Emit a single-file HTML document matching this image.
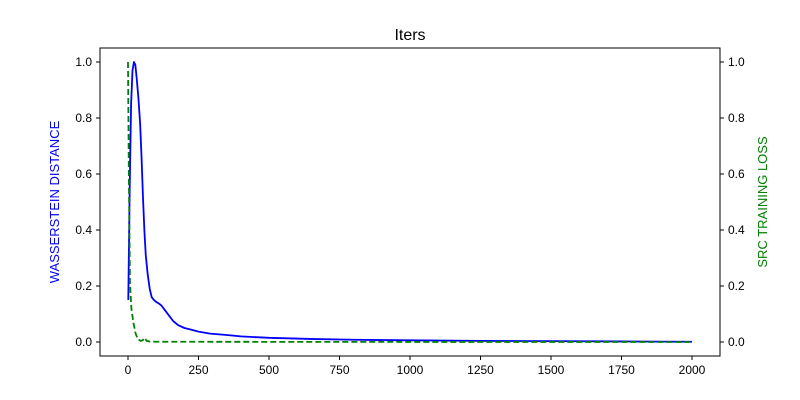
<!DOCTYPE html>
<html><head><meta charset="utf-8"><style>
html,body{margin:0;padding:0;background:#fff;}
svg{display:block;font-family:"Liberation Sans","DejaVu Sans",sans-serif;}
</style></head><body>
<svg id="chart" width="800" height="400">
<rect x="0" y="0" width="800" height="400" fill="#fff"/>
<text x="410" y="40" font-size="16" text-anchor="middle">Iters</text>
<text transform="translate(59,202) rotate(-90)" font-size="13" fill="#0000ff" text-anchor="middle">WASSERSTEIN DISTANCE</text>
<text transform="translate(767,202) rotate(-90)" font-size="13" fill="#008000" text-anchor="middle">SRC TRAINING LOSS</text>
<g id="ticks"></g>
<g id="series"></g>
<rect x="100" y="48" width="620" height="308" fill="none" stroke="#000" stroke-width="1"/>
</svg>
<script>
const xTicks=[0,250,500,750,1000,1250,1500,1750,2000];
const yTicks=[0,0.2,0.4,0.6,0.8,1.0];
const yTickLabels=["0.0","0.2","0.4","0.6","0.8","1.0"];
const wassX=[1,6,11,16,21,26,31,37,43,48,53,58,63,70,77,84,92,100,110,119,130,145,160,178,200,220,250,291,350,400,500,645,800,1000,1250,1500,1750,2000];
const wassY=[0.15,0.55,0.85,0.97,1.0,0.99,0.94,0.87,0.78,0.66,0.52,0.40,0.31,0.24,0.19,0.16,0.15,0.143,0.137,0.13,0.115,0.095,0.075,0.06,0.05,0.045,0.037,0.03,0.025,0.02,0.015,0.011,0.008,0.006,0.004,0.003,0.002,0.001];
const lossX=[0,3,7,12,19,27,35,45,52,59,66,75,100,500,1000,1500,2000];
const lossY=[1.0,0.6,0.21,0.12,0.07,0.03,0.01,0.004,0.006,0.015,0.004,0.002,0.001,0.0005,0.0003,0.0002,0.0001];
const sx=v=>128+v*0.282;
const sy=v=>342-v*280;
const NS="http://www.w3.org/2000/svg";
const tg=document.getElementById('ticks');
function mk(t,a,p){const e=document.createElementNS(NS,t);for(const k in a)e.setAttribute(k,a[k]);p.appendChild(e);return e;}
xTicks.forEach(v=>{
  const l=mk('line',{x1:sx(v),x2:sx(v),y1:356,y2:360,stroke:'#000'},tg);
  
  
  const t=mk('text',{x:sx(v),y:374,'font-size':12,'text-anchor':'middle'},tg);t.textContent=v;
  
  
});
yTicks.forEach((v,i)=>{
  const l=mk('line',{x1:96,x2:100,y1:sy(v),y2:sy(v),stroke:'#000'},tg);
  
  
  const t=mk('text',{x:92,y:sy(v)+4,'font-size':12,'text-anchor':'end'},tg);t.textContent=yTickLabels[i];
  
  
  const r=mk('line',{x1:720,x2:724,y1:sy(v),y2:sy(v),stroke:'#000'},tg);
  
  
  const t2=mk('text',{x:728,y:sy(v)+4,'font-size':12,'text-anchor':'start'},tg);t2.textContent=yTickLabels[i];
  
  
});
const sg=document.getElementById('series');
const w=mk('polyline',{points:wassX.map((x,i)=>sx(x)+','+sy(wassY[i])).join(' '),fill:'none',stroke:'#0000ff','stroke-width':1.8,'stroke-linejoin':'round'},sg);


const g=mk('polyline',{points:lossX.map((x,i)=>sx(x)+','+sy(lossY[i])).join(' '),fill:'none',stroke:'#008000','stroke-width':1.8,'stroke-dasharray':'6,3'},sg);


</script>
</body></html>
